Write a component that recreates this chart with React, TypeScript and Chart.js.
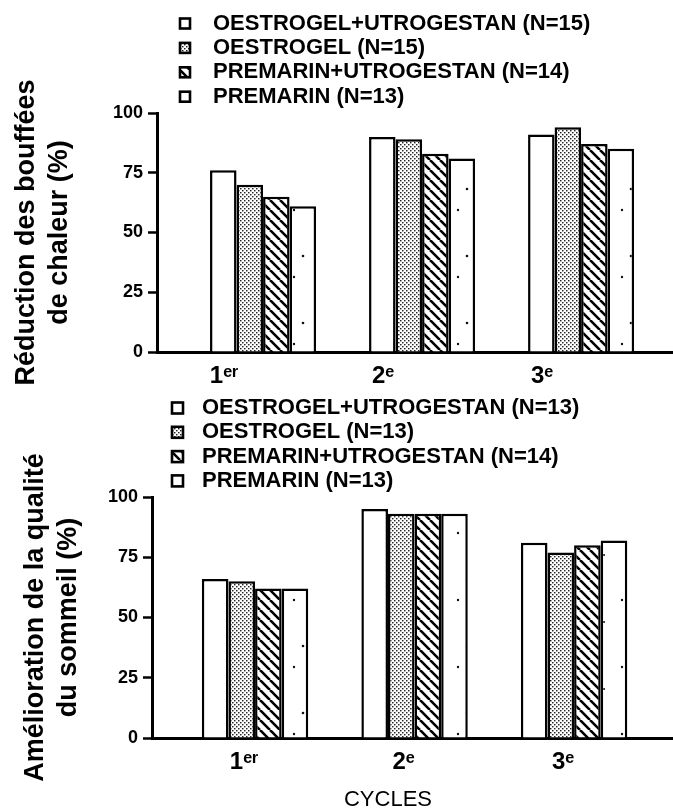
import { useEffect, useRef } from 'react';
import { Chart, registerables } from 'chart.js';

Chart.register(...registerables);

// ---- data ----
const cycles = ['1ᵉʳ', '2ᵉ', '3ᵉ'];
const yTickValues = [0, 25, 50, 75, 100];

const hotFlushSeriesLabels = [
  'OESTROGEL+UTROGESTAN (N=15)',
  'OESTROGEL (N=15)',
  'PREMARIN+UTROGESTAN (N=14)',
  'PREMARIN (N=13)',
];
const hotFlushOestrogelUtrogestan = [76, 90, 91];
const hotFlushOestrogel = [70, 89, 94];
const hotFlushPremarinUtrogestan = [65, 83, 87];
const hotFlushPremarin = [61, 81, 85];

const sleepSeriesLabels = [
  'OESTROGEL+UTROGESTAN (N=13)',
  'OESTROGEL (N=13)',
  'PREMARIN+UTROGESTAN (N=14)',
  'PREMARIN (N=13)',
];
const sleepOestrogelUtrogestan = [66, 95, 81];
const sleepOestrogel = [65, 93, 77];
const sleepPremarinUtrogestan = [62, 93, 80];
const sleepPremarin = [62, 93, 82];

const hotFlushTitle = ['Réduction des bouffées', 'de chaleur (%)'];
const sleepTitle = ['Amélioration de la qualité', 'du sommeil (%)'];
const xAxisTitle = 'CYCLES';

const FAMILY = "'Liberation Sans', Arial, 'DejaVu Sans', sans-serif";
Chart.defaults.font.family = FAMILY;
Chart.defaults.color = '#000';

// ---- fills ----
function makeFill(kind: string): any {
  const c = document.createElement('canvas');
  const g = c.getContext('2d') as CanvasRenderingContext2D;
  if (kind === 'white') return '#ffffff';
  if (kind === 'stipple') {
    c.width = 4; c.height = 4;
    g.fillStyle = '#fff'; g.fillRect(0, 0, 4, 4);
    g.fillStyle = '#222';
    g.fillRect(0, 0, 1.5, 1.4);
    g.fillRect(2, 2, 1.5, 1.4);
  } else if (kind === 'hatch') {
    c.width = 10; c.height = 10;
    g.fillStyle = '#fff'; g.fillRect(0, 0, 10, 10);
    g.strokeStyle = '#000'; g.lineWidth = 2.6;
    g.beginPath();
    for (const k of [-10, 0, 10]) { g.moveTo(k, 0); g.lineTo(k + 10, 10); }
    g.stroke();
  } else {
    c.width = 41; c.height = 67;
    g.fillStyle = '#fff'; g.fillRect(0, 0, 41, 67);
    g.fillStyle = '#111';
    for (const [dx, dy, r] of [[7, 9, 1.2], [30, 31, 1.1], [16, 55, 1.3]]) {
      g.beginPath(); g.arc(dx, dy, r, 0, Math.PI * 2); g.fill();
    }
  }
  return g.createPattern(c, 'repeat');
}

// ---- legend / extra text plugin ----
const boxLegend = {
  id: 'boxLegend',
  afterDraw(chart: any, _args: any, opts: any) {
    const ctx = chart.ctx as CanvasRenderingContext2D;
    ctx.save();
    chart.data.datasets.forEach((ds: any, i: number) => {
      const y = opts.y + i * opts.gap;
      const b = opts.box;
      ctx.fillStyle = ds.backgroundColor;
      ctx.fillRect(opts.boxX, y - b / 2, b, b);
      ctx.lineWidth = 2.6;
      ctx.strokeStyle = '#000';
      ctx.strokeRect(opts.boxX, y - b / 2, b, b);
      ctx.fillStyle = '#000';
      ctx.font = `bold 22px ${FAMILY}`;
      ctx.textAlign = 'left';
      ctx.textBaseline = 'middle';
      ctx.fillText(ds.label, opts.textX, y);
    });
    if (opts.noteText) {
      ctx.font = `22px ${FAMILY}`;
      ctx.textAlign = 'center';
      ctx.textBaseline = 'middle';
      ctx.fillStyle = '#000';
      ctx.fillText(opts.noteText, opts.noteX, opts.noteY);
    }
    ctx.restore();
  },
};

type Params = {
  labels: string[];
  series: number[][];
  yTitle: string[];
  padTop: number;
  yWidth: number;
  xHeight: number;
  xMin: number;
  xMax: number;
  labelOffset: number;
  titlePad: number;
  legend: any;
};

function buildConfig(p: Params): any {
  const fills = ['white', 'stipple', 'hatch', 'sparse'].map(makeFill);
  return {
    type: 'bar',
    data: {
      labels: cycles.map((_, i) => i + 1),
      datasets: p.series.map((values, i) => ({
        label: p.labels[i],
        data: values,
        backgroundColor: fills[i],
        borderColor: '#000',
        borderWidth: 2.5,
        borderSkipped: 'bottom',
        barPercentage: 1,
        categoryPercentage: 0.667,
      })),
    },
    options: {
      responsive: false,
      animation: false,
      events: [],
      layout: { padding: { top: p.padTop, left: 0, right: 0, bottom: 0 } },
      plugins: {
        legend: { display: false },
        tooltip: { enabled: false },
        boxLegend: p.legend,
      },
      scales: {
        x: {
          type: 'linear',
          min: p.xMin,
          max: p.xMax,
          offset: false,
          afterBuildTicks: (s: any) => {
            s.ticks = cycles.map((_, i) => ({ value: i + 1 }));
          },
          afterFit: (s: any) => { s.height = p.xHeight; },
          grid: { display: false, drawTicks: false, offset: false },
          border: { display: true, color: '#000', width: 3 },
          ticks: {
            callback: (v: number) => cycles[v - 1],
            labelOffset: p.labelOffset,
            padding: 10,
            maxRotation: 0,
            autoSkip: false,
            color: '#000',
            font: { size: 24, weight: 'bold', lineHeight: 1.2 },
          },
        },
        y: {
          min: 0,
          max: 100,
          afterBuildTicks: (s: any) => {
            s.ticks = yTickValues.map((v) => ({ value: v }));
          },
          afterFit: (s: any) => { s.width = p.yWidth; },
          ticks: {
            padding: 5,
            color: '#000',
            font: { size: 18, weight: 'bold' },
          },
          grid: {
            drawOnChartArea: false,
            drawTicks: true,
            tickLength: 9,
            tickWidth: 2.5,
            tickColor: '#000',
            color: '#000',
          },
          border: { display: true, color: '#000', width: 3 },
          title: {
            display: true,
            text: p.yTitle,
            color: '#000',
            font: { size: 27, weight: 'bold', lineHeight: 1.22 },
            padding: { top: p.titlePad, bottom: 0 },
          },
        },
      },
    },
    plugins: [boxLegend],
  };
}

function ChartCanvas({ params, width, height, top }: { params: Params; width: number; height: number; top: number }) {
  const ref = useRef<HTMLCanvasElement | null>(null);
  useEffect(() => {
    if (!ref.current) return;
    const chart = new Chart(ref.current, buildConfig(params));
    return () => chart.destroy();
  }, []);
  return (
    <canvas
      ref={ref}
      width={width}
      height={height}
      style={{ position: 'absolute', left: 0, top, width, height, display: 'block' }}
    />
  );
}

const hotFlushParams: Params = {
  labels: hotFlushSeriesLabels,
  series: [hotFlushOestrogelUtrogestan, hotFlushOestrogel, hotFlushPremarinUtrogestan, hotFlushPremarin],
  yTitle: hotFlushTitle,
  padTop: 113,
  yWidth: 157,
  xHeight: 38,
  xMin: 0.333,
  xMax: 3.578,
  labelOffset: -39,
  titlePad: 10.5,
  legend: { boxX: 180, box: 10, textX: 213, y: 23.5, gap: 24.4 },
};

const sleepParams: Params = {
  labels: sleepSeriesLabels,
  series: [sleepOestrogelUtrogestan, sleepOestrogel, sleepPremarinUtrogestan, sleepPremarin],
  yTitle: sleepTitle,
  padTop: 107,
  yWidth: 152,
  xHeight: 74,
  xMin: 0.354,
  xMax: 3.62,
  labelOffset: -11,
  titlePad: 19.5,
  legend: { boxX: 172, box: 11, textX: 202, y: 18, gap: 24.3, noteText: xAxisTitle, noteX: 388, noteY: 410 },
};

export default function App() {
  return (
    <div style={{ position: 'absolute', left: 0, top: 0, width: 673, height: 812, background: '#fff', overflow: 'hidden' }}>
      <ChartCanvas params={hotFlushParams} width={673} height={390} top={0} />
      <ChartCanvas params={sleepParams} width={673} height={422} top={390} />
    </div>
  );
}
